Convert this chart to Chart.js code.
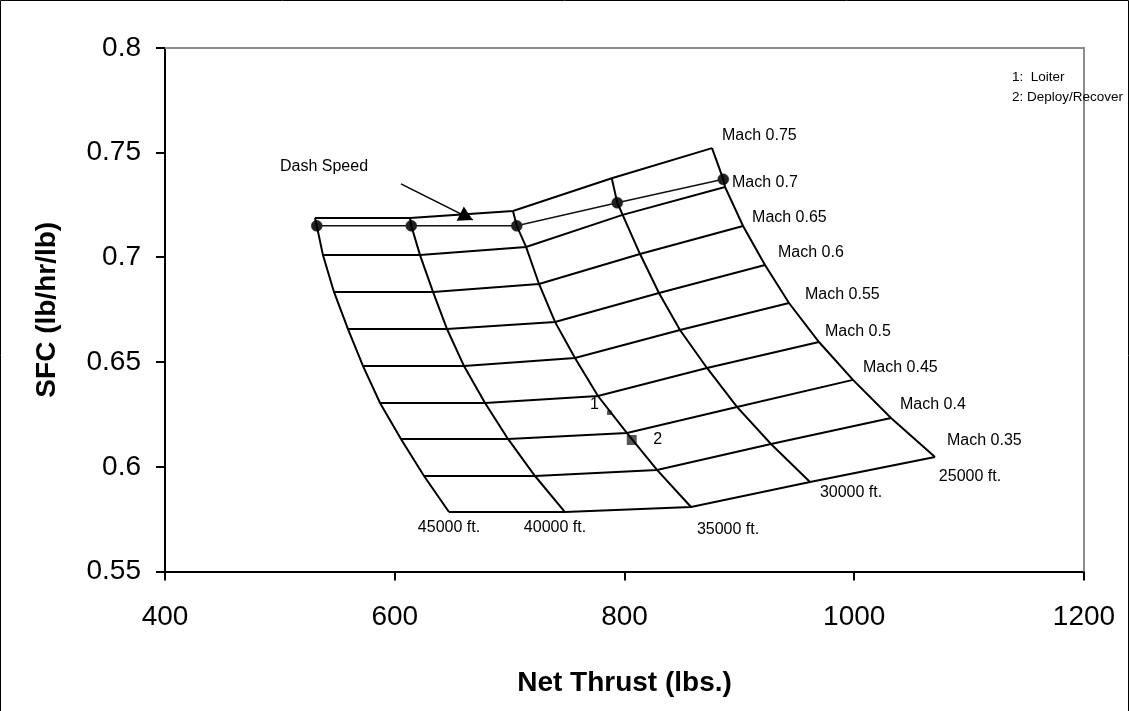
<!DOCTYPE html>
<html>
<head>
<meta charset="utf-8">
<title>SFC vs Net Thrust</title>
<script src="https://cdn.jsdelivr.net/npm/chart.js@4.4.0/dist/chart.umd.min.js"></script>
<style>
  html, body { margin: 0; padding: 0; background: #fff; }
  canvas { display: block; }
</style>
</head>
<body>
<canvas id="carpet" width="1129" height="711"></canvas>
<script>
// Mach lines (top to bottom) and altitude lines (left to right)
const machNumbers = [0.75, 0.7, 0.65, 0.6, 0.55, 0.5, 0.45, 0.4, 0.35];
const altitudes = [45000, 40000, 35000, 30000, 25000];

// net thrust (lbs.) and SFC for each Mach number, one pair of arrays per altitude
const thrust45k = [530.6, 537.5, 547.1, 559.3, 572.4, 587.2, 605.4, 625.5, 647.2];
const sfc45k    = [0.7188, 0.7011, 0.6835, 0.6658, 0.6481, 0.6305, 0.6133, 0.5956, 0.5784];
const thrust40k = [613.3, 622.0, 633.3, 645.5, 660.3, 678.6, 698.6, 722.1, 748.2];
const sfc40k    = [0.7188, 0.7011, 0.6835, 0.6658, 0.6481, 0.6305, 0.6133, 0.5956, 0.5784];
const thrust35k = [702.9, 714.3, 725.6, 739.5, 756.9, 776.9, 802.2, 828.3, 857.9];
const sfc35k    = [0.7222, 0.7050, 0.6873, 0.6692, 0.6520, 0.6338, 0.6161, 0.5985, 0.5808];
const thrust30k = [788.9, 798.4, 813.5, 830.0, 848.3, 871.8, 897.9, 927.5, 961.5];
const sfc30k    = [0.7378, 0.7203, 0.7016, 0.6830, 0.6653, 0.6472, 0.6286, 0.6109, 0.5927];
const thrust25k = [876.2, 887.5, 903.2, 922.3, 943.2, 969.3, 998.9, 1032.0, 1070.3];
const sfc25k    = [0.7522, 0.7336, 0.7150, 0.6964, 0.6782, 0.6596, 0.6415, 0.6233, 0.6047];

// dash speed point on each altitude line (45000 ft. .. 25000 ft.)
const dashThrust = [532.1, 614.4, 706.2, 793.7, 886.0];
const dashSfc    = [0.7151, 0.7151, 0.7151, 0.7261, 0.7373];

// mission points: 1 = Loiter, 2 = Deploy/Recover
const missionThrust = [786.8, 806.3];
const missionSfc    = [0.6258, 0.6128];

const xTicks = [400, 600, 800, 1000, 1200];
const yTicks = [0.55, 0.6, 0.65, 0.7, 0.75, 0.8];

const thrustByAlt = [thrust45k, thrust40k, thrust35k, thrust30k, thrust25k];
const sfcByAlt = [sfc45k, sfc40k, sfc35k, sfc30k, sfc25k];

const FONT = '"Liberation Sans", Arial, Helvetica, sans-serif';

const datasets = [];

// constant altitude lines, dash speed point sits between Mach 0.75 and 0.7
altitudes.forEach((alt, a) => {
  const pts = machNumbers.map((m, i) => ({ x: thrustByAlt[a][i], y: sfcByAlt[a][i] }));
  pts.splice(1, 0, { x: dashThrust[a], y: dashSfc[a] });
  datasets.push({
    label: alt + ' ft.',
    data: pts,
    showLine: true,
    borderColor: '#000',
    borderWidth: 2,
    pointRadius: 0,
    tension: 0
  });
});

// constant Mach lines
machNumbers.forEach((m, i) => {
  datasets.push({
    label: 'Mach ' + m,
    data: altitudes.map((alt, a) => ({ x: thrustByAlt[a][i], y: sfcByAlt[a][i] })),
    showLine: true,
    borderColor: '#000',
    borderWidth: 2,
    pointRadius: 0,
    tension: 0
  });
});

// dash speed line with dots
datasets.push({
  label: 'Dash Speed',
  data: dashThrust.map((t, k) => ({ x: t, y: dashSfc[k] })),
  showLine: true,
  borderColor: '#111',
  borderWidth: 1.5,
  pointRadius: 5.5,
  pointBackgroundColor: '#222',
  pointBorderColor: '#222',
  pointBorderWidth: 0.5
});

datasets.push({
  label: 'Loiter',
  data: [{ x: missionThrust[0], y: missionSfc[0] }],
  showLine: false,
  pointStyle: 'rect',
  pointRadius: 3.2,
  pointBackgroundColor: '#555',
  pointBorderColor: '#555',
  pointBorderWidth: 0
});
datasets.push({
  label: 'Deploy/Recover',
  data: [{ x: missionThrust[1], y: missionSfc[1] }],
  showLine: false,
  pointStyle: 'rect',
  pointRadius: 7,
  pointBackgroundColor: '#555',
  pointBorderColor: '#555',
  pointBorderWidth: 0
});

// text labels, arrow and frame
const carpetLabels = {
  id: 'carpetLabels',
  afterDatasetsDraw(chart) {
    const { ctx, chartArea: area, scales: { x, y } } = chart;
    const px = v => x.getPixelForValue(v);
    const py = v => y.getPixelForValue(v);
    ctx.save();

    // gray top / right edge of the plot area
    ctx.strokeStyle = '#8c8c8c';
    ctx.lineWidth = 2;
    ctx.beginPath();
    ctx.moveTo(area.left, area.top);
    ctx.lineTo(area.right, area.top);
    ctx.lineTo(area.right, area.bottom);
    ctx.stroke();

    ctx.fillStyle = '#000';
    ctx.font = '16px ' + FONT;

    // Mach labels at the 25000 ft. end of each line
    const machNudge = [[10, -12], [7, -4], [9, -8], [13, -12], [16, -8], [6, -10], [10, -12], [9, -13], [12, -16]];
    ctx.textAlign = 'left';
    ctx.textBaseline = 'middle';
    machNumbers.forEach((m, i) => {
      ctx.fillText('Mach ' + m, px(thrust25k[i]) + machNudge[i][0], py(sfc25k[i]) + machNudge[i][1]);
    });

    // altitude labels under the Mach 0.35 end of each line
    const altNudge = [[0, 16], [-10, 16], [37, 23], [41, 11], [35, 20]];
    ctx.textAlign = 'center';
    altitudes.forEach((alt, a) => {
      const last = machNumbers.length - 1;
      ctx.fillText(alt + ' ft.', px(thrustByAlt[a][last]) + altNudge[a][0], py(sfcByAlt[a][last]) + altNudge[a][1]);
    });

    // mission point numbers
    ctx.fillText('1', px(missionThrust[0]) - 15, py(missionSfc[0]) - 8);
    ctx.fillText('2', px(missionThrust[1]) + 26, py(missionSfc[1]));

    // Dash Speed callout
    ctx.textAlign = 'left';
    ctx.fillText('Dash Speed', px(500.1), py(0.7432));
    const x0 = px(605.4), y0 = py(0.7351), x1 = px(667.9), y1 = py(0.7179);
    ctx.strokeStyle = '#000';
    ctx.lineWidth = 1.5;
    ctx.beginPath();
    ctx.moveTo(x0, y0);
    ctx.lineTo(x1, y1);
    ctx.stroke();
    const ang = Math.atan2(y1 - y0, x1 - x0);
    const len = 14, half = 8;
    const bx = x1 - len * Math.cos(ang), by = y1 - len * Math.sin(ang);
    ctx.beginPath();
    ctx.moveTo(x1, y1);
    ctx.lineTo(bx + half * Math.sin(ang), by - half * Math.cos(ang));
    ctx.lineTo(bx - half * Math.sin(ang), by + half * Math.cos(ang));
    ctx.closePath();
    ctx.fill();

    // key in the top right corner
    ctx.font = '13.5px ' + FONT;
    ctx.fillText('1:  Loiter', area.right - 72, area.top + 29);
    ctx.fillText('2: Deploy/Recover', area.right - 72, area.top + 49);

    // outer frame
    ctx.strokeStyle = '#000';
    ctx.lineWidth = 1;
    ctx.beginPath();
    ctx.moveTo(0.5, chart.height);
    ctx.lineTo(0.5, 0.5);
    ctx.lineTo(chart.width - 0.5, 0.5);
    ctx.lineTo(chart.width - 0.5, chart.height);
    ctx.stroke();

    ctx.restore();
  }
};

// keep the plot box fixed: axis boxes sized by hand, no extra label padding
const noPad = s => { s.paddingLeft = s.paddingRight = s.paddingTop = s.paddingBottom = 0; };

new Chart(document.getElementById('carpet'), {
  type: 'scatter',
  data: { datasets },
  options: {
    responsive: false,
    animation: false,
    devicePixelRatio: 1,
    layout: { padding: { top: 48, right: 45, bottom: 0, left: 0 } },
    plugins: { legend: { display: false }, tooltip: { enabled: false } },
    scales: {
      x: {
        type: 'linear',
        min: 400,
        max: 1200,
        afterBuildTicks: s => { s.ticks = xTicks.map(v => ({ value: v })); },
        afterFit: s => { s.height = 139.5; noPad(s); },
        grid: { drawOnChartArea: false, color: '#000', lineWidth: 2, tickLength: 9 },
        border: { color: '#000', width: 2 },
        ticks: { color: '#000', padding: 20, maxRotation: 0, font: { family: FONT, size: 28 }, callback: v => String(v) },
        title: {
          display: true,
          text: 'Net Thrust (lbs.)',
          color: '#000',
          font: { family: FONT, size: 28, weight: 'bold' },
          padding: { top: 0, bottom: 11 }
        }
      },
      y: {
        type: 'linear',
        min: 0.55,
        max: 0.8,
        afterBuildTicks: s => { s.ticks = yTicks.map(v => ({ value: v })); },
        afterFit: s => { s.width = 165; noPad(s); },
        grid: { drawOnChartArea: false, color: '#000', lineWidth: 2, tickLength: 9 },
        border: { color: '#000', width: 2 },
        ticks: { color: '#000', padding: 15, font: { family: FONT, size: 28 }, callback: v => String(+v.toFixed(2)) },
        title: {
          display: true,
          text: 'SFC (lb/hr/lb)',
          color: '#000',
          font: { family: FONT, size: 28, weight: 'bold' },
          padding: { top: 30, bottom: 0 }
        }
      }
    }
  },
  plugins: [carpetLabels]
});
</script>
</body>
</html>
